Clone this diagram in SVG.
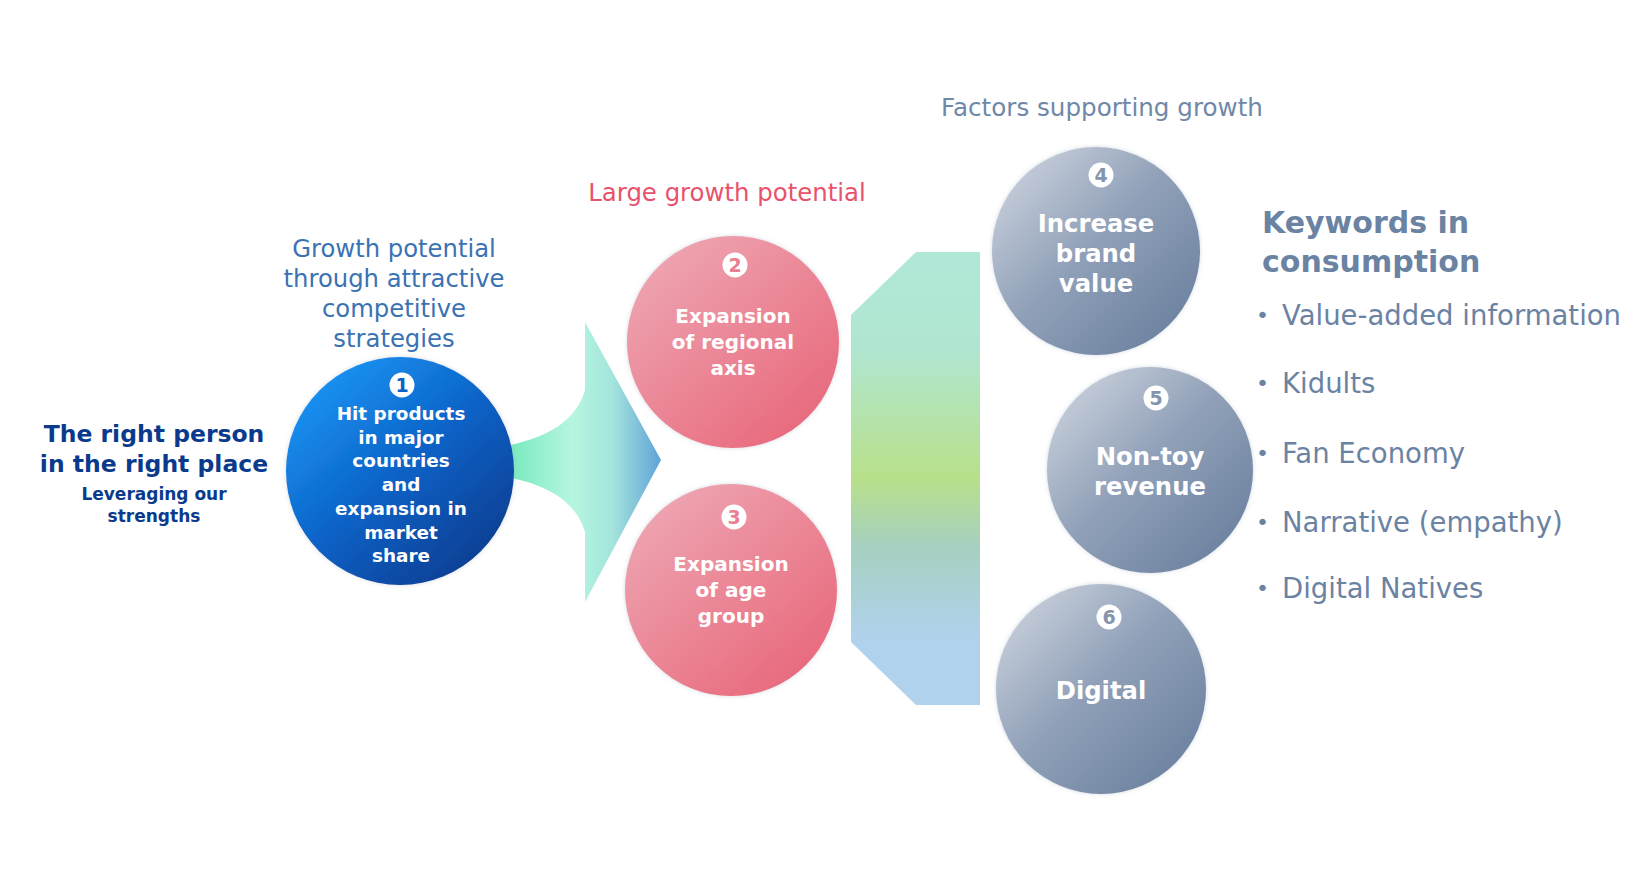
<svg xmlns="http://www.w3.org/2000/svg" width="1648" height="892" viewBox="0 0 1648 892">
<defs>
<style>
text{font-family:"DejaVu Sans","Verdana",sans-serif}
.wb{fill:#fff;font-weight:bold;text-anchor:middle}
.lbl{text-anchor:middle}
.kw{fill:#6b83a3;font-size:27.5px}
.bul{fill:#6b83a3;font-size:22px}
</style>
<linearGradient id="gBlue" x1="0.15" y1="0.1" x2="0.85" y2="0.9">
<stop offset="0" stop-color="#1a92f2"/><stop offset="0.5" stop-color="#0b62c6"/><stop offset="1" stop-color="#083f94"/>
</linearGradient>
<linearGradient id="gPink" x1="0.15" y1="0.1" x2="0.85" y2="0.9">
<stop offset="0" stop-color="#eea3b0"/><stop offset="1" stop-color="#e86a7d"/>
</linearGradient>
<linearGradient id="gGray" x1="0.1" y1="0.1" x2="0.85" y2="0.85">
<stop offset="0" stop-color="#c6ceda"/><stop offset="0.5" stop-color="#90a0b8"/><stop offset="1" stop-color="#7085a2"/>
</linearGradient>
<linearGradient id="gArrow" x1="0" y1="0" x2="1" y2="0">
<stop offset="0" stop-color="#6ee8b8"/><stop offset="0.45" stop-color="#b6f6e0"/><stop offset="0.7" stop-color="#a4e4dc"/><stop offset="1" stop-color="#5fa2d8"/>
</linearGradient>
<linearGradient id="gBar" x1="0" y1="0" x2="0" y2="1">
<stop offset="0" stop-color="#b0e8d8"/><stop offset="0.22" stop-color="#b0e6d0"/><stop offset="0.5" stop-color="#b8e08a"/><stop offset="0.65" stop-color="#a6d0c0"/><stop offset="0.85" stop-color="#b0d2ec"/><stop offset="1" stop-color="#b0d2ec"/>
</linearGradient>
<filter id="glow" x="-10%" y="-10%" width="120%" height="120%">
<feDropShadow dx="0" dy="0" stdDeviation="2" flood-color="#8090a8" flood-opacity="0.35"/>
</filter>
</defs>
<rect width="1648" height="892" fill="#fff"/>

<g id="connectors">
<path d="M 500 447 C 540 440 575 425 585 390 L 585 322 L 661 460 L 585 602 L 585 532 C 575 498 540 482 500 476 Z" fill="url(#gArrow)"/>
<path d="M 851 315 L 916 252 L 980 252 L 980 705 L 916 705 L 851 642 Z" fill="url(#gBar)"/>
</g>

<g id="labels">
<text class="lbl" x="394" y="257" font-size="24.3" fill="#3a72b4">Growth potential</text>
<text class="lbl" x="394" y="287" font-size="24.3" fill="#3a72b4">through attractive</text>
<text class="lbl" x="394" y="317" font-size="24.3" fill="#3a72b4">competitive</text>
<text class="lbl" x="394" y="347" font-size="24.3" fill="#3a72b4">strategies</text>
<text class="lbl" x="727" y="201" font-size="24.4" fill="#e8526c">Large growth potential</text>
<text class="lbl" x="1102" y="116" font-size="24.6" fill="#7088a8">Factors supporting growth</text>
</g>

<g id="left-title">
<text class="lbl" x="154" y="442" font-size="23.5" font-weight="bold" fill="#0a3a8c">The right person</text>
<text class="lbl" x="154" y="472" font-size="23.5" font-weight="bold" fill="#0a3a8c">in the right place</text>
<text class="lbl" x="154" y="500" font-size="17" font-weight="bold" fill="#0a3a8c">Leveraging our</text>
<text class="lbl" x="154" y="522" font-size="17" font-weight="bold" fill="#0a3a8c">strengths</text>
</g>

<g id="node1">
<circle cx="400" cy="471" r="114" fill="url(#gBlue)" filter="url(#glow)"/>
<circle cx="402" cy="385" r="12.5" fill="#fff"/>
<text x="402" y="392" font-size="19" font-weight="bold" fill="#0b62c6" text-anchor="middle">1</text>
<text class="wb" font-size="18.4" x="401" y="420">Hit products</text>
<text class="wb" font-size="18.4" x="401" y="444">in major</text>
<text class="wb" font-size="18.4" x="401" y="467">countries</text>
<text class="wb" font-size="18.4" x="401" y="491">and</text>
<text class="wb" font-size="18.4" x="401" y="515">expansion in</text>
<text class="wb" font-size="18.4" x="401" y="539">market</text>
<text class="wb" font-size="18.4" x="401" y="562">share</text>
</g>

<g id="node2">
<circle cx="733" cy="342" r="106" fill="url(#gPink)" filter="url(#glow)"/>
<circle cx="735" cy="265" r="12.5" fill="#fff"/>
<text x="735" y="272" font-size="19" font-weight="bold" fill="#e97f90" text-anchor="middle">2</text>
<text class="wb" font-size="20" x="733" y="323">Expansion</text>
<text class="wb" font-size="20" x="733" y="349">of regional</text>
<text class="wb" font-size="20" x="733" y="375">axis</text>
</g>

<g id="node3">
<circle cx="731" cy="590" r="106" fill="url(#gPink)" filter="url(#glow)"/>
<circle cx="734" cy="517" r="12.5" fill="#fff"/>
<text x="734" y="524" font-size="19" font-weight="bold" fill="#e97f90" text-anchor="middle">3</text>
<text class="wb" font-size="20" x="731" y="571">Expansion</text>
<text class="wb" font-size="20" x="731" y="597">of age</text>
<text class="wb" font-size="20" x="731" y="623">group</text>
</g>

<g id="node4">
<circle cx="1096" cy="251" r="104" fill="url(#gGray)" filter="url(#glow)"/>
<circle cx="1101" cy="175" r="12.5" fill="#fff"/>
<text x="1101" y="182" font-size="19" font-weight="bold" fill="#8494ac" text-anchor="middle">4</text>
<text class="wb" font-size="24.3" x="1096" y="232">Increase</text>
<text class="wb" font-size="24.3" x="1096" y="262">brand</text>
<text class="wb" font-size="24.3" x="1096" y="292">value</text>
</g>

<g id="node5">
<circle cx="1150" cy="470" r="103" fill="url(#gGray)" filter="url(#glow)"/>
<circle cx="1156" cy="398" r="12.5" fill="#fff"/>
<text x="1156" y="405" font-size="19" font-weight="bold" fill="#8494ac" text-anchor="middle">5</text>
<text class="wb" font-size="24.3" x="1150" y="465">Non-toy</text>
<text class="wb" font-size="24.3" x="1150" y="495">revenue</text>
</g>

<g id="node6">
<circle cx="1101" cy="689" r="105" fill="url(#gGray)" filter="url(#glow)"/>
<circle cx="1109" cy="617" r="12.5" fill="#fff"/>
<text x="1109" y="624" font-size="19" font-weight="bold" fill="#8494ac" text-anchor="middle">6</text>
<text class="wb" font-size="24.3" x="1101" y="699">Digital</text>
</g>

<g id="keywords">
<text x="1262" y="233" font-size="30" font-weight="bold" fill="#6b83a3">Keywords in</text>
<text x="1262" y="272" font-size="30" font-weight="bold" fill="#6b83a3">consumption</text>
<text class="bul" x="1256" y="323">•</text><text class="kw" x="1282" y="325">Value-added information</text>
<text class="bul" x="1256" y="391">•</text><text class="kw" x="1282" y="393">Kidults</text>
<text class="bul" x="1256" y="461">•</text><text class="kw" x="1282" y="463">Fan Economy</text>
<text class="bul" x="1256" y="530">•</text><text class="kw" x="1282" y="532">Narrative (empathy)</text>
<text class="bul" x="1256" y="596">•</text><text class="kw" x="1282" y="598">Digital Natives</text>
</g>
</svg>
